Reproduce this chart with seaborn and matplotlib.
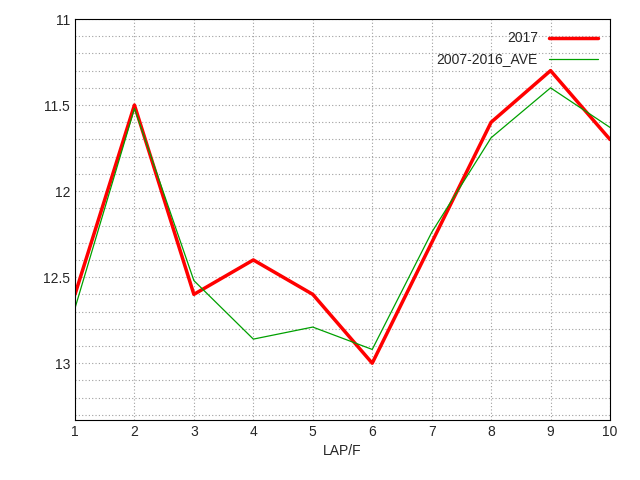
import numpy as np
import matplotlib
matplotlib.use("Agg")
import matplotlib.pyplot as plt
import seaborn as sns
from matplotlib.ticker import MultipleLocator

laps = [1, 2, 3, 4, 5, 6, 7, 8, 9, 10]
y2017 = [12.6, 11.5, 12.6, 12.4, 12.6, 13.0, 12.3, 11.6, 11.3, 11.7]
ave = [12.68, 11.52, 12.52, 12.86, 12.79, 12.92, 12.24, 11.69, 11.40, 11.63]

sns.set_style("white")
plt.rcParams['font.family'] = ['Liberation Sans', 'DejaVu Sans']

fig = plt.figure(figsize=(6.4, 4.8), dpi=100)
ax = fig.add_axes([75/640, 60/480, 535/640, 401/480])

sns.lineplot(x=laps, y=y2017, ax=ax, color='red', linewidth=2.5, label='2017')
sns.lineplot(x=laps, y=ave, ax=ax, color='#00a000', linewidth=0.9, label='2007-2016_AVE')

ax.set_xlim(1, 10)
ax.set_ylim(13.33, 11)
ax.xaxis.set_major_locator(MultipleLocator(1))
ax.yaxis.set_major_locator(MultipleLocator(0.5))
ax.yaxis.set_minor_locator(MultipleLocator(0.1))
ax.yaxis.set_major_formatter(plt.FuncFormatter(lambda v, p: f'{v:g}'))
ax.grid(which='both', color='#a0a0a0', linestyle=(0, (1, 2)), linewidth=0.8)
ax.tick_params(which='both', direction='in', labelsize=10)
ax.tick_params(which='minor', length=3)
ax.tick_params(which='major', length=5)
for s in ax.spines.values():
    s.set_color('black')
    s.set_linewidth(0.8)
ax.set_xlabel('LAP/F', fontsize=10)
ax.legend(loc='upper right', frameon=False, fontsize=10, markerfirst=False, handlelength=3.5)

fig.savefig('out.png', dpi=100)
